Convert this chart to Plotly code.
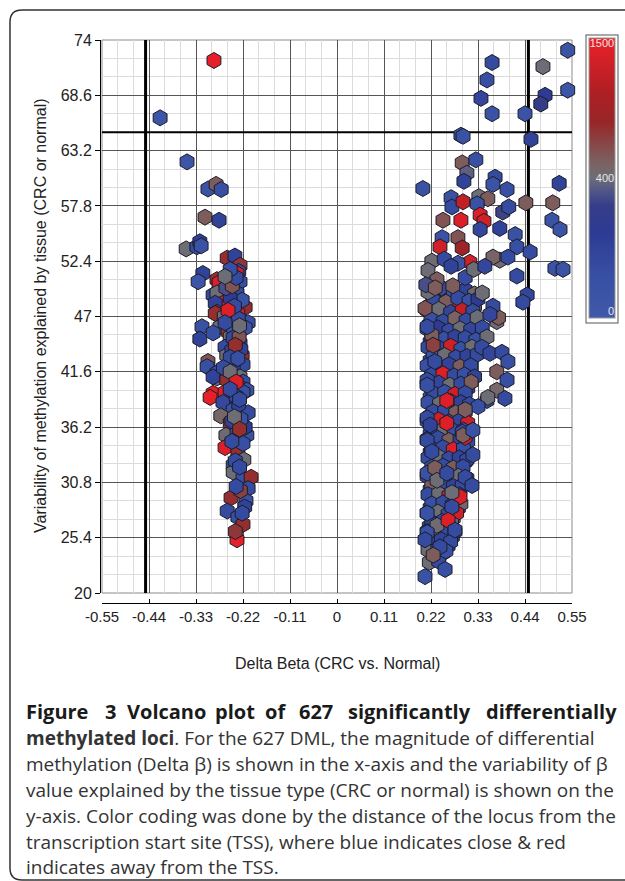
import plotly.graph_objects as go

# ---------------- data ----------------
# Left cluster (hypomethylated loci)
left_delta = [
    -0.288, -0.414, -0.351, -0.302, -0.283, -0.271, -0.309, -0.276, -0.353, -0.328,
    -0.321, -0.318, -0.257, -0.239, -0.227, -0.230, -0.314, -0.325, -0.281, -0.276,
    -0.234, -0.227, -0.290, -0.281, -0.267, -0.285, -0.281, -0.234, -0.215, -0.222,
    -0.232, -0.250, -0.260, -0.245, -0.316, -0.274, -0.220, -0.208, -0.255, -0.250,
    -0.321, -0.290, -0.243, -0.215, -0.285, -0.264, -0.262, -0.227, -0.222, -0.258,
    -0.246, -0.302, -0.304, -0.239, -0.220, -0.281, -0.281, -0.243, -0.227, -0.290,
    -0.220, -0.258, -0.227, -0.290, -0.297, -0.262, -0.243, -0.211, -0.220, -0.267,
    -0.243, -0.208, -0.272, -0.250, -0.246, -0.260, -0.234, -0.211, -0.262, -0.232,
    -0.220, -0.215, -0.218, -0.243, -0.243, -0.220, -0.201, -0.208, -0.248, -0.213,
    -0.257, -0.232, -0.220, -0.234, -0.225, -0.230, -0.236, -0.225, -0.231, -0.243,
    -0.229, -0.238, -0.226, -0.216, -0.238, -0.222,
    -0.236, -0.250, -0.262, -0.240, -0.255, -0.228, -0.262, -0.238, -0.250, -0.232,
    -0.266, -0.250, -0.236, -0.250, -0.228, -0.240, -0.228, -0.246, -0.228, -0.236,
]
left_var = [
    72.0, 66.4, 62.1, 59.45, 59.9, 59.4, 56.7, 56.4, 53.6, 53.8,
    54.3, 53.9, 52.7, 52.9, 52.0, 51.4, 51.2, 50.4, 50.6, 50.3,
    51.2, 50.4, 49.1, 49.3, 48.3, 48.3, 47.4, 49.3, 47.9, 48.6,
    47.3, 48.8, 49.8, 50.0, 46.0, 46.0, 46.0, 46.4, 45.5, 45.0,
    44.8, 45.4, 45.9, 45.9, 47.3, 47.0, 44.0, 44.4, 43.2, 43.2,
    43.7, 42.6, 42.1, 42.1, 42.3, 41.5, 41.0, 42.1, 41.1, 41.1,
    40.6, 40.8, 40.1, 39.5, 39.1, 39.6, 38.8, 39.8, 39.6, 38.6,
    37.9, 37.6, 37.3, 36.6, 36.8, 35.4, 35.6, 35.4, 34.2, 33.8,
    34.6, 36.2, 33.0, 32.5, 31.8, 31.2, 31.3, 30.2, 29.3, 29.0,
    28.0, 27.4, 26.7, 25.2, 37.0, 38.4, 39.2, 43.8, 46.8, 44.9,
    45.0, 32.9, 30.0, 28.4, 26.0, 27.8,
    50.8, 51.6, 50.9, 48.0, 47.6, 46.1, 46.4, 44.2, 43.0, 42.9,
    42.0, 41.6, 40.6, 39.9, 38.9, 37.2, 36.0, 34.8, 32.3, 30.4,
]
left_tss = [
    1450, 60, 60, 80, 550, 120, 550, 200, 400, 150,
    220, 100, 800, 200, 750, 150, 200, 60, 800, 1400,
    1300, 120, 150, 400, 1400, 200, 800, 150, 800, 100,
    1300, 250, 350, 600, 100, 400, 180, 120, 800, 400,
    200, 120, 100, 60, 800, 400, 150, 250, 800, 400,
    180, 600, 120, 100, 150, 100, 400, 200, 400, 200,
    150, 800, 750, 1400, 1450, 1400, 180, 100, 120, 160,
    100, 150, 480, 800, 200, 420, 150, 100, 1400, 800,
    120, 250, 400, 120, 400, 100, 800, 150, 800, 100,
    150, 120, 800, 1450, 100, 200, 150, 200, 150, 150,
    600, 150, 700, 200, 750, 150,
    150, 120, 400, 150, 1400, 400, 150, 800, 150, 120,
    150, 400, 1400, 150, 150, 400, 800, 150, 150, 150,
]

# Right cluster, dense core (hypermethylated loci)
core_delta = [
    0.218, 0.245, 0.272, 0.300, 0.322,
    0.225, 0.255, 0.283, 0.309, 0.330,
    0.211, 0.238, 0.266, 0.293, 0.318,
    0.220, 0.248, 0.276, 0.302, 0.328,
    0.211, 0.236, 0.262, 0.288, 0.313, 0.340,
    0.222, 0.250, 0.276, 0.300, 0.325,
    0.213, 0.240, 0.266, 0.290, 0.316,
    0.225, 0.252, 0.278, 0.304, 0.328,
    0.211, 0.236, 0.262, 0.288, 0.313,
    0.222, 0.248, 0.274, 0.298, 0.322,
    0.211, 0.238, 0.264, 0.290, 0.314,
    0.225, 0.252, 0.276, 0.300,
    0.213, 0.240, 0.266, 0.290, 0.310,
    0.225, 0.252, 0.278, 0.300,
    0.211, 0.238, 0.262, 0.286, 0.306,
    0.225, 0.250, 0.274, 0.296,
    0.211, 0.236, 0.262, 0.288, 0.306,
    0.222, 0.248, 0.272, 0.296,
    0.213, 0.238, 0.262, 0.286, 0.304,
    0.222, 0.248, 0.272, 0.295,
    0.211, 0.236, 0.260, 0.284, 0.304,
    0.222, 0.248, 0.272, 0.293,
    0.213, 0.238, 0.262, 0.286,
    0.222, 0.248, 0.270, 0.290,
    0.211, 0.236, 0.260, 0.280,
    0.222, 0.246, 0.268,
    0.211, 0.236, 0.258, 0.276,
    0.220, 0.244, 0.266,
    0.213, 0.236, 0.255,
]
core_var = [
    49.5, 49.8, 49.3, 49.6, 49.2,
    48.6, 48.4, 48.8, 48.5, 48.7,
    47.6, 47.7, 47.4, 47.6, 47.5,
    46.7, 46.5, 46.8, 46.6, 46.9,
    45.8, 45.9, 45.6, 45.8, 45.7, 45.9,
    44.9, 44.8, 45.0, 44.9, 44.7,
    44.0, 43.9, 44.1, 43.8, 44.0,
    43.1, 43.2, 43.0, 43.1, 43.3,
    42.2, 42.0, 42.3, 42.1, 42.2,
    41.3, 41.4, 41.2, 41.3, 41.1,
    40.4, 40.5, 40.3, 40.4, 40.6,
    39.5, 39.6, 39.4, 39.5,
    38.6, 38.5, 38.7, 38.6, 38.4,
    37.7, 37.8, 37.6, 37.7,
    36.8, 36.9, 36.7, 36.8, 36.6,
    35.9, 36.0, 35.8, 35.9,
    35.0, 35.1, 34.9, 35.0, 34.8,
    34.1, 34.2, 34.0, 34.1,
    33.2, 33.3, 33.1, 33.2, 33.0,
    32.3, 32.4, 32.2, 32.3,
    31.4, 31.5, 31.3, 31.4, 31.2,
    30.5, 30.6, 30.4, 30.5,
    29.6, 29.7, 29.5, 29.6,
    28.7, 28.8, 28.6, 28.7,
    27.8, 27.9, 27.7, 27.8,
    26.9, 27.0, 26.8,
    26.0, 26.1, 25.9, 26.0,
    25.1, 25.2, 25.0,
    24.2, 24.3, 24.1,
]
core_tss = [
    350, 150, 100, 200, 450,
    150, 550, 150, 120, 250,
    150, 400, 180, 1200, 150,
    120, 150, 500, 150, 400,
    130, 250, 150, 400, 180, 150,
    550, 120, 200, 150, 120,
    150, 180, 1300, 120, 400,
    100, 420, 150, 200, 150,
    120, 150, 200, 550, 150,
    150, 1400, 150, 120, 200,
    100, 180, 400, 150, 550,
    150, 120, 1300, 150,
    120, 400, 150, 200, 150,
    150, 150, 550, 120,
    100, 1300, 150, 180, 1300,
    150, 400, 120, 150,
    120, 150, 550, 200, 150,
    180, 150, 1400, 120,
    150, 400, 150, 200, 150,
    120, 150, 550, 150,
    200, 150, 120, 400, 150,
    550, 150, 200, 150,
    150, 400, 1300, 150,
    120, 150, 200, 500,
    150, 400, 150, 1300,
    180, 150, 400,
    120, 550, 150, 150,
    150, 200, 150,
    400, 150, 120,
]

# Right cluster, second (offset) layer of the core
core2_delta = [
    0.232, 0.259, 0.288, 0.312,
    0.218, 0.245, 0.270, 0.297, 0.322,
    0.228, 0.255, 0.282, 0.308,
    0.216, 0.243, 0.270, 0.296, 0.320,
    0.229, 0.256, 0.282, 0.307,
    0.218, 0.246, 0.272, 0.296, 0.338,
    0.230, 0.258, 0.284, 0.310,
    0.218, 0.244, 0.270, 0.296,
    0.230, 0.256, 0.282, 0.306,
    0.218, 0.244, 0.270, 0.294,
    0.230, 0.258, 0.282, 0.306,
    0.218, 0.246, 0.270, 0.292,
    0.230, 0.256, 0.282, 0.304,
    0.218, 0.244, 0.268, 0.290,
    0.230, 0.256, 0.280, 0.300,
    0.218, 0.244, 0.268, 0.290,
    0.230, 0.256, 0.280, 0.300,
    0.218, 0.244, 0.268, 0.292,
    0.230, 0.256, 0.280, 0.300,
    0.218, 0.244, 0.268, 0.292,
    0.230, 0.256, 0.280, 0.298,
    0.218, 0.244, 0.268, 0.288,
    0.230, 0.256, 0.278,
    0.218, 0.242, 0.264, 0.284,
    0.228, 0.250, 0.272,
    0.216, 0.240, 0.262,
    0.228, 0.252, 0.270,
    0.216, 0.240, 0.260,
    0.226, 0.248,
    0.216, 0.238,
]
core2_var = [
    49.0, 49.1, 48.9, 49.0,
    48.1, 48.0, 48.2, 48.1, 48.0,
    47.1, 47.2, 47.0, 47.1,
    46.2, 46.3, 46.1, 46.2, 46.3,
    45.3, 45.4, 45.2, 45.3,
    44.5, 44.4, 44.6, 44.5, 44.4,
    43.6, 43.7, 43.5, 43.6,
    42.7, 42.8, 42.6, 42.7,
    41.8, 41.9, 41.7, 41.8,
    40.9, 41.0, 40.8, 40.9,
    40.0, 40.1, 39.9, 40.0,
    39.1, 39.2, 39.0, 39.1,
    38.2, 38.3, 38.1, 38.2,
    37.3, 37.4, 37.2, 37.3,
    36.4, 36.5, 36.3, 36.4,
    35.5, 35.6, 35.4, 35.5,
    34.6, 34.7, 34.5, 34.6,
    33.7, 33.8, 33.6, 33.7,
    32.8, 32.9, 32.7, 32.8,
    31.9, 32.0, 31.8, 31.9,
    31.0, 31.1, 30.9, 31.0,
    30.1, 30.2, 30.0, 30.1,
    29.2, 29.3, 29.1,
    28.3, 28.4, 28.2, 28.3,
    27.4, 27.5, 27.3,
    26.5, 26.6, 26.4,
    25.6, 25.7, 25.5,
    24.7, 24.8, 24.6,
    23.8, 23.9,
    23.0, 23.1,
]
core2_tss = [
    150, 400, 120, 150,
    200, 150, 1400, 150, 550,
    150, 120, 400, 150,
    180, 550, 150, 120, 150,
    150, 150, 1300, 400,
    120, 400, 150, 150, 150,
    150, 150, 550, 120,
    150, 1300, 150, 150,
    400, 150, 120, 150,
    150, 150, 550, 150,
    120, 1400, 150, 200,
    150, 150, 400, 150,
    200, 150, 150, 400,
    150, 400, 150, 1300,
    150, 150, 400, 150,
    120, 150, 1300, 150,
    550, 150, 150, 150,
    150, 150, 400, 150,
    150, 1400, 150, 200,
    400, 150, 150, 150,
    150, 150, 550, 150,
    150, 150, 400, 150,
    550, 150, 150,
    150, 400, 150, 150,
    150, 150, 550,
    150, 150, 150,
    400, 150, 150,
    150, 550, 150,
    150, 150,
    400, 150,
]

# Right cluster, edge points of the core
edge_delta = [
    0.222, 0.225, 0.211, 0.229, 0.211, 0.211, 0.211, 0.218, 0.257, 0.257,
    0.293, 0.300, 0.295, 0.211, 0.222, 0.211, 0.229, 0.234, 0.257, 0.300,
    0.288, 0.269, 0.269, 0.211, 0.234, 0.260, 0.276, 0.211, 0.206, 0.241,
    0.225, 0.253, 0.206, 0.213,
]
edge_var = [
    45.2, 44.2, 46.0, 42.6, 40.8, 40.3, 37.1, 36.4, 36.6, 38.8,
    35.7, 35.2, 35.4, 34.9, 33.8, 31.7, 32.2, 31.0, 31.7, 31.3,
    29.4, 29.8, 28.4, 27.8, 26.6, 27.1, 26.15, 25.9, 25.2, 24.5,
    23.7, 22.3, 21.6, 49.4,
]
edge_tss = [
    550, 700, 150, 150, 150, 120, 150, 200, 1400, 1400,
    150, 1400, 550, 150, 150, 100, 550, 400, 150, 150,
    1400, 400, 150, 100, 420, 1400, 150, 100, 150, 150,
    550, 120, 100, 400,
]

# Right cluster, upper part and outliers
upper_delta = [
    0.540, 0.482, 0.363, 0.351, 0.337, 0.363, 0.440, 0.487, 0.477, 0.540,
    0.290, 0.295, 0.454, 0.293, 0.325, 0.304, 0.297, 0.201, 0.370, 0.365,
    0.398, 0.520, 0.442, 0.505, 0.503, 0.522, 0.267, 0.269, 0.295, 0.332,
    0.353, 0.328, 0.388, 0.402, 0.335, 0.344, 0.290, 0.248, 0.246, 0.283,
    0.335, 0.381, 0.417, 0.421, 0.452, 0.241, 0.293, 0.311, 0.283, 0.381,
    0.400, 0.365, 0.421, 0.510, 0.529, 0.445, 0.435, 0.222, 0.213, 0.234,
    0.208, 0.206, 0.230, 0.271, 0.251, 0.267, 0.300, 0.320, 0.346,
]
upper_var = [
    73.0, 71.4, 71.8, 70.1, 68.3, 66.8, 66.8, 68.6, 67.75, 69.1,
    64.7, 64.6, 64.3, 62.0, 62.3, 61.0, 60.2, 59.5, 60.6, 59.9,
    59.4, 60.0, 58.1, 58.1, 56.4, 55.5, 58.6, 57.7, 58.2, 58.7,
    58.5, 58.0, 57.2, 57.7, 56.9, 56.3, 56.4, 56.4, 54.7, 54.7,
    55.5, 55.6, 55.0, 53.8, 53.3, 53.8, 53.7, 52.3, 52.2, 52.5,
    52.8, 52.8, 50.95, 51.7, 51.6, 49.1, 48.4, 52.4, 51.5, 50.6,
    50.1, 47.8, 49.8, 50.0, 52.6, 51.9, 50.8, 51.6, 51.9,
]
upper_tss = [
    80, 400, 150, 120, 180, 80, 80, 250, 320, 60,
    80, 100, 200, 550, 120, 380, 200, 100, 150, 80,
    120, 200, 550, 550, 80, 80, 100, 150, 1200, 400,
    550, 100, 330, 150, 1400, 1300, 1400, 600, 100, 600,
    180, 200, 100, 120, 150, 1300, 900, 1300, 100, 420,
    150, 500, 150, 80, 80, 180, 150, 420, 400, 550,
    350, 600, 550, 550, 150, 200, 150, 400, 180,
]

# Right cluster, scattered points right of the core
side_delta = [
    0.374, 0.378, 0.351, 0.339, 0.358, 0.386, 0.400, 0.374, 0.398, 0.374,
    0.393, 0.351, 0.353, 0.330, 0.300, 0.318, 0.318, 0.316, 0.365, 0.340, 0.358,
]
side_var = [
    46.5, 46.9, 45.0, 44.0, 43.4, 43.5, 42.6, 41.6, 40.8, 39.8,
    39.0, 38.8, 39.1, 38.2, 37.9, 35.9, 33.5, 30.5, 48.0, 49.3, 47.2,
]
side_tss = [
    450, 550, 400, 150, 180, 150, 120, 550, 130, 470,
    150, 150, 400, 120, 550, 100, 150, 150, 150, 400, 180,
]

x_ticks = [-0.55, -0.44, -0.33, -0.22, -0.11, 0, 0.11, 0.22, 0.33, 0.44, 0.55]
x_tick_text = ["-0.55", "-0.44", "-0.33", "-0.22", "-0.11", "0", "0.11", "0.22", "0.33", "0.44", "0.55"]
y_ticks = [20, 25.4, 30.8, 36.2, 41.6, 47, 52.4, 57.8, 63.2, 68.6, 74]
y_tick_text = ["20", "25.4", "30.8", "36.2", "41.6", "47", "52.4", "57.8", "63.2", "68.6", "74"]
x_range = [-0.55, 0.55]
y_range = [20, 74]
delta_cutoff = 0.448
var_cutoff = 65
tss_ticks = [0, 400, 1500]

caption_title_words = ["Figure", "3", "Volcano", "plot", "of", "627", "significantly", "differentially"]
caption_lines = [
    "<b>methylated loci</b>. For the 627 DML, the magnitude of differential",
    "methylation (Delta β) is shown in the x-axis and the variability of β",
    "value explained by the tissue type (CRC or normal) is shown on the",
    "y-axis. Color coding was done by the distance of the locus from the",
    "transcription start site (TSS), where blue indicates close &amp; red",
    "indicates away from the TSS.",
]

# ---------------- layout geometry ----------------
W, H = 625, 881
ML, MR, MT, MB = 100, 53, 40, 278
PW = W - ML - MR
PH = H - MT - MB


def pxx(p):
    return (p - ML) / PW


def pxy(p):
    return (H - MB - p) / PH


def tss_to_t(v):
    # colour bar is piecewise: 0..400 fills lower half, 400..1500 upper half
    if v <= 400:
        return v / 800.0
    return 0.5 + (v - 400) / 2200.0


colorscale = [
    [0.0, "#4159aa"],
    [0.15, "#3850a3"],
    [0.3, "#2d3b94"],
    [0.4, "#363d88"],
    [0.45, "#4f5488"],
    [0.5, "#6d6d76"],
    [0.55, "#7a6363"],
    [0.62, "#874848"],
    [0.7, "#982628"],
    [0.8, "#ad1f24"],
    [0.9, "#cc2027"],
    [1.0, "#ec2029"],
]

fig = go.Figure()

# cut-off lines (drawn first, so markers sit on top of them)
fig.add_trace(go.Scatter(x=[-delta_cutoff, -delta_cutoff], y=y_range, mode="lines",
                         line=dict(color="black", width=3), showlegend=False, hoverinfo="skip"))
fig.add_trace(go.Scatter(x=[delta_cutoff, delta_cutoff], y=y_range, mode="lines",
                         line=dict(color="black", width=3), showlegend=False, hoverinfo="skip"))
fig.add_trace(go.Scatter(x=x_range, y=[var_cutoff, var_cutoff], mode="lines",
                         line=dict(color="black", width=2), showlegend=False, hoverinfo="skip"))

groups = [
    (left_delta, left_var, left_tss),
    (core2_delta, core2_var, core2_tss),
    (core_delta, core_var, core_tss),
    (edge_delta, edge_var, edge_tss),
    (side_delta, side_var, side_tss),
    (upper_delta, upper_var, upper_tss),
]
for xs, ys, ds in groups:
    fig.add_trace(go.Scatter(
        x=xs, y=ys, mode="markers", cliponaxis=False, showlegend=False,
        hoverinfo="skip",
        marker=dict(symbol="hexagon", size=16, color=[tss_to_t(v) for v in ds],
                    coloraxis="coloraxis",
                    line=dict(color="#1c1c28", width=1)),
    ))

axis_font = "Liberation Sans, Arial, sans-serif"

shapes = [
    dict(type="rect", xref="x domain", yref="y domain", x0=0, x1=1, y0=0, y1=1,
         line=dict(color="#8a8a8a", width=1), layer="below"),
    dict(type="path", xref="paper", yref="paper",
         path=(f"M {pxx(640):.4f} {pxy(10):.4f} L {pxx(22):.4f} {pxy(10):.4f} "
               f"Q {pxx(10):.4f} {pxy(10):.4f} {pxx(10):.4f} {pxy(22):.4f} "
               f"L {pxx(10):.4f} {pxy(868):.4f} Q {pxx(10):.4f} {pxy(880):.4f} {pxx(22):.4f} {pxy(880):.4f} "
               f"L {pxx(640):.4f} {pxy(880):.4f}"),
         line=dict(color="#333", width=1.5)),
]

annotations = [
    dict(text="Variability of methylation explained by tissue (CRC or normal)",
         xref="paper", yref="paper", x=pxx(40), y=pxy(316), textangle=-90,
         showarrow=False, xanchor="center", yanchor="middle",
         font=dict(family=axis_font, size=16, color="#222")),
    dict(text="Delta Beta (CRC vs. Normal)",
         xref="paper", yref="paper", x=pxx(337), y=pxy(663),
         showarrow=False, xanchor="center", yanchor="middle",
         font=dict(family=axis_font, size=16, color="#222")),
]

word_x = [24, 103, 125, 213, 263, 297, 346, 484]
for w, wx in zip(caption_title_words, word_x):
    annotations.append(dict(text=f"<b>{w}</b>", xref="paper", yref="paper",
                            x=pxx(wx), y=pxy(711), showarrow=False,
                            xanchor="left", yanchor="middle",
                            font=dict(family="Open Sans", size=20, color="#1a1a1a")))

line_y = [738, 764, 790, 816, 842, 867]
for txt, ly in zip(caption_lines, line_y):
    annotations.append(dict(text=txt, xref="paper", yref="paper",
                            x=pxx(24), y=pxy(ly), showarrow=False,
                            xanchor="left", yanchor="middle",
                            font=dict(family="Open Sans", size=19, color="#333")))

fig.update_layout(
    width=W, height=H,
    margin=dict(l=ML, r=MR, t=MT, b=MB, autoexpand=False),
    paper_bgcolor="white", plot_bgcolor="white",
    xaxis=dict(domain=[2 / PW, 1], anchor="free", position=0, range=x_range,
               tickmode="array", tickvals=x_ticks, ticktext=x_tick_text,
               showline=True, linecolor="black", linewidth=1,
               ticks="inside", ticklen=4, tickcolor="black",
               showgrid=True, gridcolor="#555", gridwidth=1, zeroline=False,
               tickfont=dict(family=axis_font, size=15, color="#222"),
               minor=dict(tick0=-0.55, dtick=0.11 / 3, showgrid=True,
                          gridcolor="#dcdcdc", gridwidth=1)),
    yaxis=dict(domain=[10 / PH, 1], anchor="free", position=0, range=y_range,
               tickmode="array", tickvals=y_ticks, ticktext=y_tick_text,
               showline=True, linecolor="black", linewidth=1,
               ticks="outside", ticklen=5, tickcolor="black",
               showgrid=True, gridcolor="#555", gridwidth=1, zeroline=False,
               tickfont=dict(family=axis_font, size=16, color="#222"),
               minor=dict(tick0=20, dtick=1.8, showgrid=True,
                          gridcolor="#dcdcdc", gridwidth=1)),
    coloraxis=dict(
        cmin=0, cmax=1, colorscale=colorscale,
        colorbar=dict(
            tickmode="array",
            # label positions nudged inside the bar ends, as in the reference
            tickvals=[0.025, tss_to_t(tss_ticks[1]), 0.98],
            ticktext=[str(v) for v in tss_ticks],
            ticklabelposition="inside", ticks="",
            ticklabeloverflow="allow",
            tickfont=dict(family=axis_font, size=11, color="#e6e6e6"),
            thicknessmode="pixels", thickness=26,
            lenmode="pixels", len=286,
            x=pxx(587), xanchor="left", y=pxy(35), yanchor="top",
            outlinewidth=1, outlinecolor="#999",
            borderwidth=1, bordercolor="#555", bgcolor="white",
            xpad=2, ypad=3,
        ),
    ),
    shapes=shapes,
    annotations=annotations,
)

fig.write_html("out.html", config={"displayModeBar": False},
               post_script="document.body.style.margin='0px';")
